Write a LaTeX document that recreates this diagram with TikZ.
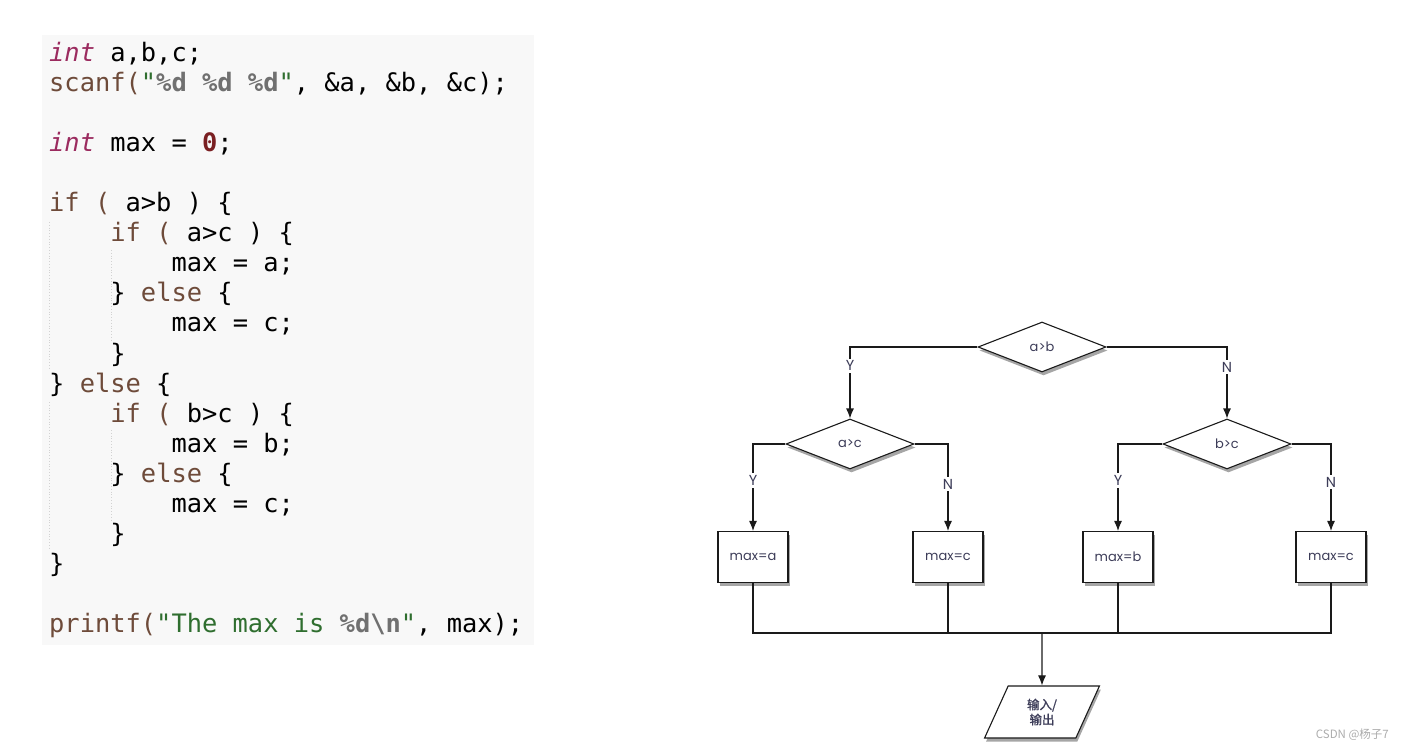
\documentclass[tikz,border=0pt]{standalone}
\usepackage{fontspec}
\setmonofont{DejaVu Sans Mono}
\newfontfamily\flowfont{Poppins}
\newfontfamily\cjk{Noto Sans CJK SC}
\newfontfamily\cjkio{Noto Sans CJK SC}[FakeBold=1.2]
\usetikzlibrary{shapes.geometric,arrows.meta,positioning,shadows}

\definecolor{codebg}{HTML}{F8F8F8}
\definecolor{ctype}{HTML}{9B2B5F}
\definecolor{ckey}{HTML}{6E4B3A}
\definecolor{cstring}{HTML}{2F6E2F}
\definecolor{cfmt}{HTML}{707070}
\definecolor{cnumber}{HTML}{7A1F22}
\definecolor{flowtext}{HTML}{3C3C58}
\definecolor{flowline}{HTML}{1A1A1A}

\newcommand{\tp}[1]{\textcolor{ctype}{\itshape #1}}
\newcommand{\kw}[1]{\textcolor{ckey}{#1}}
\newcommand{\cstr}[1]{\textcolor{cstring}{#1}}
\newcommand{\fmt}[1]{\textcolor{cfmt}{\bfseries #1}}
\newcommand{\numlit}[1]{\textcolor{cnumber}{\bfseries #1}}

\tikzset{
  codeline/.style={anchor=base west, inner sep=0pt, font=\ttfamily\fontsize{25.4}{30}\selectfont},
  guide/.style={gray!35, dotted, line width=0.8pt},
  flowbox/.style={draw=flowline, fill=white, line width=1.1pt, text=flowtext,
    font=\flowfont\fontsize{13}{15}\selectfont,
    drop shadow={shadow xshift=1.5pt, shadow yshift=-3.5pt, fill=black, opacity=.35}},
  decision/.style={flowbox, diamond, inner sep=0pt, minimum width=128pt, minimum height=50pt},
  process/.style={flowbox, rectangle, minimum width=70pt, minimum height=51pt},
  io/.style={flowbox, trapezium, trapezium left angle=69, trapezium right angle=111,
    trapezium stretches=true, minimum width=115pt, minimum height=52pt, align=center,
    font=\cjkio\fontsize{12.5}{15}\selectfont},
  flow/.style={draw=flowline, line width=1.1pt},
  arr/.style={flow, -{Latex[length=10pt,width=8pt]}},
  yn/.style={fill=white, inner sep=2pt, text=flowtext, font=\flowfont\fontsize{14.5}{16}\selectfont}
}

\begin{document}
\begin{tikzpicture}[x=1pt,y=1pt]
  \useasboundingbox (0,0) rectangle (1403,-751);

  % code listing
  \fill[codebg] (42,-35) rectangle (534,-645);
  \draw[guide] (49.5,-222) -- (49.5,-368);
  \draw[guide] (49.5,-402) -- (49.5,-548);
  \draw[guide] (111,-250) -- (111,-340);
  \draw[guide] (111,-430) -- (111,-520);

  \node[codeline] (c0) at (49,-62) {\tp{int} a,b,c;};
  \node[codeline] (c1) at (49,-92) {\kw{scanf(}\cstr{"}\fmt{\%d} \fmt{\%d} \fmt{\%d}\cstr{"}, \&a, \&b, \&c);};
  \node[codeline] (c3) at (49,-152) {\tp{int} max = \numlit{0};};
  \node[codeline] (c5) at (49,-212) {\kw{if (} a>b ) \{};
  \node[codeline] (c6) at (110.2,-242) {\kw{if (} a>c ) \{};
  \node[codeline] (c7) at (171.4,-272) {max = a;};
  \node[codeline] (c8) at (110.2,-302) {\} \kw{else} \{};
  \node[codeline] (c9) at (171.4,-332) {max = c;};
  \node[codeline] (c10) at (110.2,-362) {\}};
  \node[codeline] (c11) at (49,-392) {\} \kw{else} \{};
  \node[codeline] (c12) at (110.2,-422) {\kw{if (} b>c ) \{};
  \node[codeline] (c13) at (171.4,-452) {max = b;};
  \node[codeline] (c14) at (110.2,-482) {\} \kw{else} \{};
  \node[codeline] (c15) at (171.4,-512) {max = c;};
  \node[codeline] (c16) at (110.2,-542) {\}};
  \node[codeline] (c17) at (49,-572) {\}};
  \node[codeline] (c19) at (49,-632) {\kw{printf(}\cstr{"The max is }\fmt{\%d\textbackslash n}\cstr{"}, max);};

  % flowchart
  \node[decision] (ab) at (1042,-347) {a>b};
  \node[decision] (ac) at (850,-444) {a>c};
  \node[decision] (bc) at (1227,-444) {b>c};

  \node[process] (ma) at (753,-557) {max=a};
  \node[process] (mc) at (948,-557) {max=c};
  \node[process] (mb) at (1118,-557) {max=b};
  \node[process] (mc2) at (1331,-557) {max=c};

  \coordinate (join) at (1042,-633);
  \node[io] (out) at (1042,-712) {输入/\\输出};

  \draw[arr] (ab.west) -| node[yn, pos=0.63] (y1) {Y} (ac.north);
  \draw[arr] (ab.east) -| node[yn, pos=0.64] (n1) {N} (bc.north);
  \draw[arr] (ac.west) -| node[yn, pos=0.71] (y2) {Y} (ma.north);
  \draw[arr] (ac.east) -| node[yn, pos=0.73] (n2) {N} (mc.north);
  \draw[arr] (bc.west) -| node[yn, pos=0.71] (y3) {Y} (mb.north);
  \draw[arr] (bc.east) -| node[yn, pos=0.72] (n3) {N} (mc2.north);

  \draw[flow] (ma.south) |- (join);
  \draw[flow] (mc2.south) |- (join);
  \draw[flow] (mc.south) -- (mc.south |- join);
  \draw[flow] (mb.south) -- (mb.south |- join);
  \draw[arr] (join) -- (out.north);

  \node[anchor=east, text=gray!65, inner sep=0pt, font=\cjk\fontsize{11.5}{13}\selectfont] (mark) at (1389,-735) {CSDN @杨子7};
\end{tikzpicture}
\end{document}
